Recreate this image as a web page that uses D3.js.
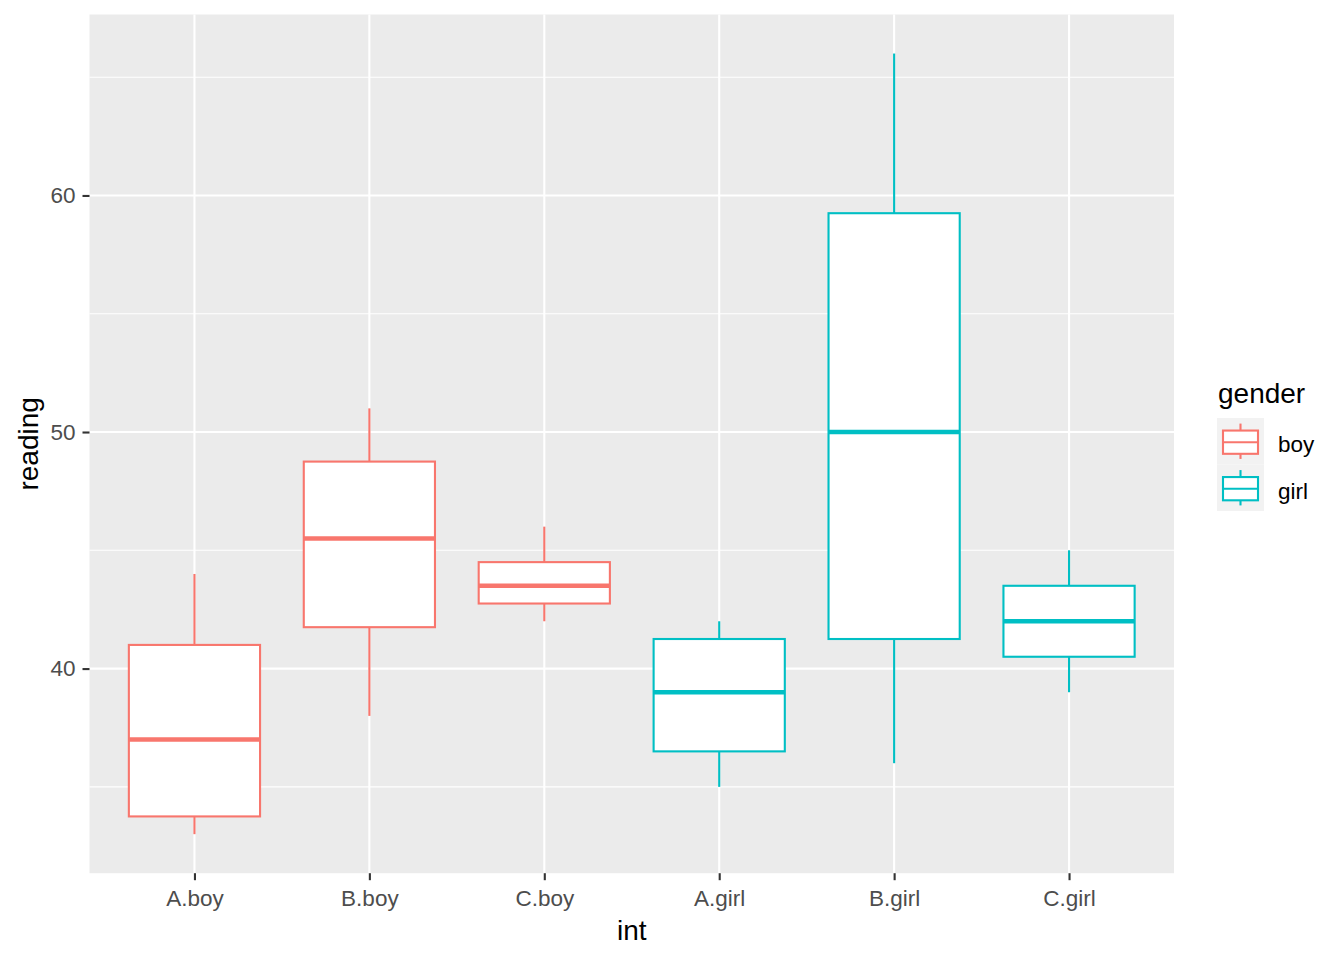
<!DOCTYPE html>
<html>
<head>
<meta charset="utf-8">
<script src="https://cdn.jsdelivr.net/npm/d3@7"></script>
<style>
  html, body { margin: 0; padding: 0; background: #fff; }
  svg { display: block; font-family: "Liberation Sans", Arial, sans-serif; }
</style>
</head>
<body>
<svg id="chart" width="1344" height="960"></svg>
<script>
// ---- data ----
const categories = ["A.boy", "B.boy", "C.boy", "A.girl", "B.girl", "C.girl"];
const genders = ["boy", "boy", "boy", "girl", "girl", "girl"];
const whiskerLow  = [33,    38,    42,    35,   36,    39];
const q1          = [33.75, 41.75, 42.75, 36.5, 41.25, 40.5];
const medians     = [37,    45.5,  43.5,  39,   50,    42];
const q3          = [41,    48.75, 44.5,  41.25, 59.25, 43.5];
const whiskerHigh = [44,    51,    46,    42,   66,    45];
const yTicks = [40, 50, 60];
const yMinor = [35, 45, 55, 65];
const legendLevels = ["boy", "girl"];
const legendColors = ["#F8766D", "#00BFC4"];

const boxes = categories.map((c, i) => ({
  cat: c, gender: genders[i],
  lo: whiskerLow[i], q1: q1[i], med: medians[i], q3: q3[i], hi: whiskerHigh[i]
}));

// ---- layout ----
const svg = d3.select("#chart");
const panel = { left: 89.5, right: 1174, top: 14.5, bottom: 873.2 };

const dataMin = d3.min(whiskerLow), dataMax = d3.max(whiskerHigh);
const pad = (dataMax - dataMin) * 0.05;
const y = d3.scaleLinear().domain([dataMin - pad, dataMax + pad]).range([panel.bottom, panel.top]);
const x = d3.scalePoint().domain(categories).range([panel.left, panel.right]).padding(0.6);
const color = d3.scaleOrdinal().domain(legendLevels).range(legendColors);
const step = x.step();
const boxW = step * 0.75;

// panel background
svg.append("rect")
  .attr("x", panel.left).attr("y", panel.top)
  .attr("width", panel.right - panel.left).attr("height", panel.bottom - panel.top)
  .attr("fill", "#EBEBEB");

// minor gridlines
svg.append("g").selectAll("line").data(yMinor).join("line")
  .attr("x1", panel.left).attr("x2", panel.right)
  .attr("y1", d => y(d)).attr("y2", d => y(d))
  .attr("stroke", "#fff").attr("stroke-width", 1.1);

// major gridlines
svg.append("g").selectAll("line").data(yTicks).join("line")
  .attr("x1", panel.left).attr("x2", panel.right)
  .attr("y1", d => y(d)).attr("y2", d => y(d))
  .attr("stroke", "#fff").attr("stroke-width", 2.1);
svg.append("g").selectAll("line").data(categories).join("line")
  .attr("x1", d => x(d)).attr("x2", d => x(d))
  .attr("y1", panel.top).attr("y2", panel.bottom)
  .attr("stroke", "#fff").attr("stroke-width", 2.1);

// boxplots
const g = svg.append("g").selectAll("g").data(boxes).join("g");
g.append("line")
  .attr("x1", d => x(d.cat)).attr("x2", d => x(d.cat))
  .attr("y1", d => y(d.hi)).attr("y2", d => y(d.q3))
  .attr("stroke", d => color(d.gender)).attr("stroke-width", 2.1);
g.append("line")
  .attr("x1", d => x(d.cat)).attr("x2", d => x(d.cat))
  .attr("y1", d => y(d.q1)).attr("y2", d => y(d.lo))
  .attr("stroke", d => color(d.gender)).attr("stroke-width", 2.1);
g.append("rect")
  .attr("x", d => x(d.cat) - boxW / 2).attr("width", boxW)
  .attr("y", d => y(d.q3)).attr("height", d => y(d.q1) - y(d.q3))
  .attr("fill", "#fff")
  .attr("stroke", d => color(d.gender)).attr("stroke-width", 2.1);
g.append("line")
  .attr("x1", d => x(d.cat) - boxW / 2).attr("x2", d => x(d.cat) + boxW / 2)
  .attr("y1", d => y(d.med)).attr("y2", d => y(d.med))
  .attr("stroke", d => color(d.gender)).attr("stroke-width", 4.5);

// axes
const yAxis = d3.axisLeft(y).tickValues(yTicks).tickSize(7).tickPadding(7).tickFormat(d3.format("d"));
const ya = svg.append("g").attr("transform", `translate(${panel.left},0)`).call(yAxis);
const xAxis = d3.axisBottom(x).tickSize(7).tickPadding(10);
const xa = svg.append("g").attr("transform", `translate(0,${panel.bottom})`).call(xAxis);
[ya, xa].forEach(a => {
  a.select(".domain").remove();
  a.selectAll(".tick line").attr("stroke", "#333333").attr("stroke-width", 2.1);
  a.selectAll(".tick text").attr("fill", "#4D4D4D")
    .style("font-size", "22.5px").style("font-family", '"Liberation Sans", Arial, sans-serif');
});
xa.selectAll(".tick text").attr("dy", "0.71em");

// axis titles
svg.append("text")
  .attr("x", (panel.left + panel.right) / 2).attr("y", 940)
  .attr("text-anchor", "middle").attr("fill", "#000")
  .style("font-size", "28px").text("int");
svg.append("text")
  .attr("transform", `translate(38,${(panel.top + panel.bottom) / 2}) rotate(-90)`)
  .attr("text-anchor", "middle").attr("fill", "#000")
  .style("font-size", "28px").text("reading");

// legend
const lg = svg.append("g").attr("transform", "translate(1217,418)");
lg.append("text").attr("x", 1).attr("y", -15)
  .attr("fill", "#000").style("font-size", "28px").text("gender");
const keyH = 46.5, keyW = 47;
const items = lg.selectAll("g").data(legendLevels).join("g")
  .attr("transform", (d, i) => `translate(0,${i * keyH})`);
items.append("rect").attr("width", keyW).attr("height", keyH).attr("fill", "#F2F2F2");
items.append("line")
  .attr("x1", keyW / 2).attr("x2", keyW / 2).attr("y1", keyH * 0.12).attr("y2", keyH * 0.88)
  .attr("stroke", d => color(d)).attr("stroke-width", 2.1);
items.append("rect")
  .attr("x", 6).attr("width", keyW - 12)
  .attr("y", keyH * 0.27).attr("height", keyH * 0.5)
  .attr("fill", "#fff").attr("stroke", d => color(d)).attr("stroke-width", 2.1);
items.append("line")
  .attr("x1", 6).attr("x2", keyW - 6).attr("y1", keyH * 0.52).attr("y2", keyH * 0.52)
  .attr("stroke", d => color(d)).attr("stroke-width", 2.1);
items.append("text")
  .attr("x", 61).attr("y", keyH / 2 + 3).attr("dy", "0.36em")
  .attr("fill", "#000").style("font-size", "22.5px").text(d => d);
</script>
</body>
</html>
